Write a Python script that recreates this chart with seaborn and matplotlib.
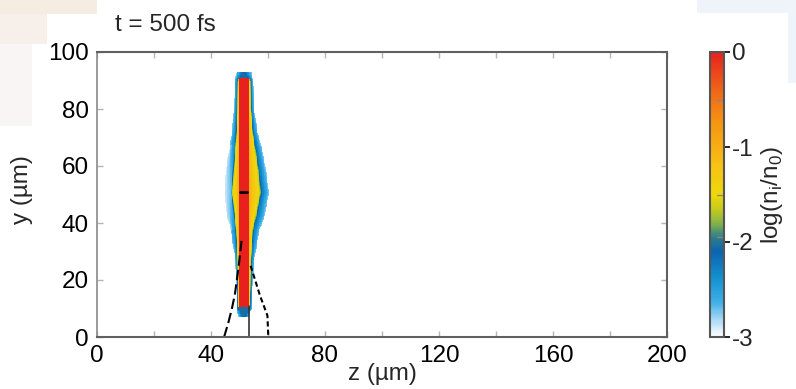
import numpy as np
import pandas as pd
import matplotlib
matplotlib.use("Agg")
import matplotlib.pyplot as plt
import seaborn as sns
from matplotlib.colors import LinearSegmentedColormap
from matplotlib.patches import Rectangle
from matplotlib.transforms import Affine2D

# ---------------- data ----------------
title = "t = 500 fs"
x_label = "z (µm)"
y_label = "y (µm)"
cbar_label = r"log(n$_\mathregular{i}$/n$_\mathregular{0}$)"

z_ticks = [0, 20, 40, 60, 80, 100, 120, 140, 160, 180, 200]
z_ticklabels = ["0", "", "40", "", "80", "", "120", "", "160", "", "200"]
y_ticks = [0, 20, 40, 60, 80, 100]
y_ticklabels = ["0", "20", "40", "60", "80", "100"]
cbar_ticks = [0, -1, -2, -3]
cbar_ticklabels = ["0", "-1", "-2", "-3"]

# dense target (red bar)
target_z = [49.8, 53.3]
target_y = [10.4, 90.8]
target_value = 0.0

# expanded plasma halo: edges (µm) at several heights
halo_y      = [7.0, 10.0, 16.0, 27.0, 37.5, 42.6, 50.7, 58.4, 65.6, 72.0, 80.0, 90.0, 92.8]
blue_left   = [49.6, 49.0, 49.0, 48.5, 46.9, 45.5, 44.8, 45.2, 46.3, 47.4, 48.0, 48.3, 49.0]
yellow_left = [51.5, 49.5, 49.5, 49.4, 48.9, 48.4, 47.6, 48.1, 48.6, 49.1, 49.4, 49.5, 51.5]
yellow_right= [51.5, 53.7, 53.8, 53.9, 54.5, 55.6, 57.2, 56.4, 55.4, 54.5, 53.9, 53.8, 51.5]
blue_right  = [53.4, 54.2, 54.5, 55.2, 57.0, 58.9, 60.3, 59.3, 58.0, 56.3, 55.2, 54.8, 54.2]
# log density inside the left blue band (fainter, speckled near mid-height)
left_band_level = [-2.2, -2.2, -2.2, -2.2, -2.3, -2.55, -2.7, -2.6, -2.35, -2.2, -2.2, -2.2, -2.2]
# log density at: blue edge, inside the blue band, yellow edge, rim next to target
halo_levels = [-2.75, -2.2, -1.6, -1.0]
cap_inner_level = -2.05
blue_band_split = 0.8

# black overlay lines
solid_z = [53.3, 53.3]
solid_y = [0.0, 11.0]
left_dash_z = [44.6, 46.1, 47.3, 48.4, 49.6, 50.8]
left_dash_y = [0.0, 5.1, 9.8, 15.1, 23.9, 34.4]
right_dash_z = [53.9, 57.2, 59.8, 60.1]
right_dash_y = [25.0, 14.5, 7.5, 0.0]
mark_z = [50.2, 52.5]
mark_y = [51.0, 51.0]

# ---------------- build the density grid ----------------
dz, dy = 0.25, 0.5
z_max, y_max = 200.0, 100.0
z_c = (np.arange(int(z_max / dz)) + 0.5) * dz
y_c = y_max - (np.arange(int(y_max / dy)) + 0.5) * dy
field = np.full((len(y_c), len(z_c)), np.nan)
z_mid = 0.5 * (target_z[0] + target_z[1])
for i, y in enumerate(y_c):
    if y < halo_y[0] or y > halo_y[-1]:
        continue
    bl = np.interp(y, halo_y, blue_left)
    yl = np.interp(y, halo_y, yellow_left)
    yr = np.interp(y, halo_y, yellow_right)
    br = np.interp(y, halo_y, blue_right)
    lb = np.interp(y, halo_y, left_band_level)
    in_bar = target_y[0] <= y <= target_y[1]
    il, ir = (target_z[0], target_z[1]) if in_bar else (z_mid, z_mid)
    yl, yr = min(yl, il), max(yr, ir)
    if in_bar:
        lv_left = [halo_levels[0] - 0.15 * (lb < -2.3), lb, halo_levels[2], halo_levels[3]]
        lv_right = [halo_levels[3], halo_levels[2], halo_levels[1], halo_levels[0]]
    else:
        lv_left = [halo_levels[0], halo_levels[1], cap_inner_level, cap_inner_level]
        lv_right = [cap_inner_level, cap_inner_level, halo_levels[1], halo_levels[0]]
    m = (z_c >= bl) & (z_c <= il)
    field[i, m] = np.interp(z_c[m], [bl, bl + blue_band_split * (yl - bl), yl, il + 1e-6],
                            lv_left)
    m = (z_c >= ir) & (z_c <= br)
    field[i, m] = np.interp(z_c[m], [ir - 1e-6, yr, br - blue_band_split * (br - yr), br],
                            lv_right)
    if in_bar:
        m = (z_c >= target_z[0]) & (z_c <= target_z[1])
        field[i, m] = target_value

df = pd.DataFrame(field, index=np.round(y_c, 2), columns=np.round(z_c, 3))

# ---------------- style ----------------
sns.set_style("white")
plt.rcParams["font.family"] = ["Liberation Sans", "DejaVu Sans"]
plt.rcParams["mathtext.fontset"] = "custom"
plt.rcParams["mathtext.rm"] = "Liberation Sans"
FS = 17.5

cmap = LinearSegmentedColormap.from_list("ion", [
    (0.00, "#ffffff"), (0.05, "#b8def5"), (0.12, "#3fb0e8"), (0.20, "#1493d3"),
    (0.30, "#0c64b0"), (0.35, "#2f7f88"), (0.40, "#86b446"), (0.45, "#c7cc1c"),
    (0.50, "#eed80a"), (0.60, "#f8c214"), (0.75, "#f59612"), (0.87, "#f06418"),
    (1.00, "#e8201e")])

W, H = 796, 389
fig = plt.figure(figsize=(W / 100, H / 100), dpi=100)
fig.patch.set_facecolor("white")

# slide background remnants
for (x0, y0, w, h, c) in [(0, 0, 97, 14, "#f5ede2"), (0, 14, 47, 30, "#f7f0ea"),
                          (0, 44, 32, 82, "#f9f5f4"), (697, 0, 99, 13, "#eff3fa"),
                          (788, 13, 8, 70, "#eff3fa")]:
    fig.patches.append(Rectangle((x0 / W, 1 - (y0 + h) / H), w / W, h / H,
                                 transform=fig.transFigure, color=c, zorder=-5, lw=0))

ax = fig.add_axes([97 / W, (H - 337) / H, 570 / W, 285 / H])
cax = fig.add_axes([710 / W, (H - 337) / H, 14 / W, 285 / H])

sns.heatmap(df, ax=ax, cmap=cmap, vmin=-3, vmax=0, cbar_ax=cax,
            xticklabels=False, yticklabels=False)

# mapping from physical (µm) coordinates to heatmap cell coordinates
to_cells = Affine2D().scale(1 / dz, -1 / dy).translate(0, y_max / dy) + ax.transData

ax.plot(solid_z, solid_y, color="#333333", lw=1.2, transform=to_cells)
ax.plot(left_dash_z, left_dash_y, color="black", lw=1.5, ls=(0, (5, 2)), transform=to_cells)
ax.plot(right_dash_z, right_dash_y, color="black", lw=1.5, ls=(0, (2.5, 1.5)), transform=to_cells)
ax.plot(mark_z, mark_y, color="black", lw=2.0, transform=to_cells)

ax.set_xlim(0, len(z_c))
ax.set_ylim(len(y_c), 0)
ax.set_xticks(np.array(z_ticks) / dz)
ax.set_xticklabels(z_ticklabels, rotation=0)
ax.set_yticks((y_max - np.array(y_ticks)) / dy)
ax.set_yticklabels(y_ticklabels, rotation=0)
ax.tick_params(direction="in", length=4, width=1, color="#b5b5b5",
               top=True, right=True, bottom=True, left=True,
               labelsize=FS, pad=6, labelcolor="black")
for sp in ax.spines.values():
    sp.set_visible(True)
    sp.set_color("#606060")
    sp.set_linewidth(1.5)
ax.spines["left"].set_color("#8a8a8a")
ax.spines["left"].set_linewidth(1.2)

ax.set_xlabel(x_label, fontsize=FS, va="center")
ax.xaxis.set_label_coords(0.5, (337 - 374) / 285)
ax.set_ylabel(y_label, fontsize=FS, va="center")
ax.yaxis.set_label_coords((22 - 97) / 570, (337 - 190) / 285)
ax.text((115 - 97) / 570, (337 - 25) / 285, title, transform=ax.transAxes,
        ha="left", va="center", fontsize=FS)

cbar = ax.collections[0].colorbar
cbar.set_ticks(cbar_ticks)
cbar.set_ticklabels(cbar_ticklabels)
cbar.ax.tick_params(direction="out", length=4, width=1.2, color="black",
                    labelsize=FS, pad=2)
cbar.outline.set_visible(True)
cbar.outline.set_linewidth(1.5)
cbar.outline.set_edgecolor("#555555")
for lv in [-0.5, -1.5, -1.95]:
    cbar.ax.axhline(lv, xmin=0.5, xmax=1.0, color="#888888", lw=1)
cbar.ax.yaxis.set_label_position("right")
cbar.ax.set_ylabel(cbar_label, fontsize=FS, rotation=90)
cbar.ax.yaxis.label.set_verticalalignment("center")
cbar.ax.yaxis.set_label_coords((772 - 710) / 14, (337 - 195) / 285)

fig.savefig("out.png", dpi=100, facecolor=fig.get_facecolor())
